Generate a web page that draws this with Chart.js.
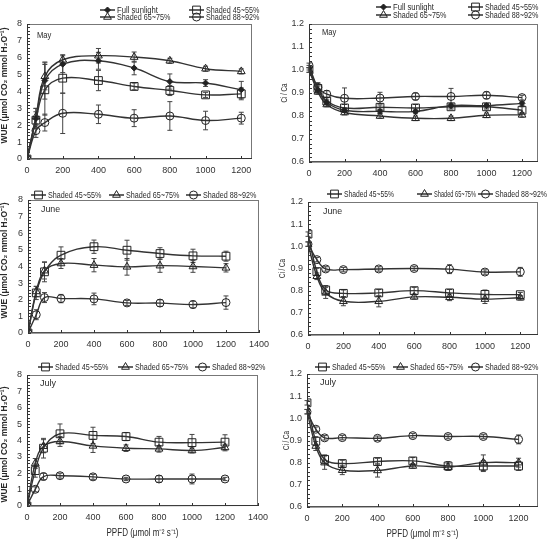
<!DOCTYPE html>
<html>
<head>
<meta charset="utf-8">
<script src="https://cdn.jsdelivr.net/npm/chart.js@4.4.1/dist/chart.umd.min.js"></script>
<style>
  body { margin: 0; background: #fff; width: 551px; height: 546px; position: relative; overflow: hidden; }
  .p { position: absolute; }
</style>
</head>
<body>
<div class="p" style="left:0;top:0;width:275px;height:178px"><canvas id="c1"></canvas></div>
<div class="p" style="left:275px;top:0;width:276px;height:178px"><canvas id="c2"></canvas></div>
<div class="p" style="left:0;top:180px;width:275px;height:178px"><canvas id="c3"></canvas></div>
<div class="p" style="left:275px;top:180px;width:276px;height:178px"><canvas id="c4"></canvas></div>
<div class="p" style="left:0;top:358px;width:275px;height:188px"><canvas id="c5"></canvas></div>
<div class="p" style="left:275px;top:358px;width:276px;height:188px"><canvas id="c6"></canvas></div>
<script>
// light intensity steps (PPFD)
const ppfd = [0, 50, 100, 200, 400, 600, 800, 1000, 1200];

// May - WUE
const mayWueFull = [0, 2.4, 4.65, 5.62, 5.82, 5.39, 4.59, 4.5, 4.1];
const mayWueFullErr = [0, 0.6, 1.1, 0.5, 0.5, 0.4, 0.45, 0.2, 0.5];
const mayWue45 = [0, 2.3, 4.1, 4.79, 4.65, 4.3, 4.06, 3.8, 3.86];
const mayWue45Err = [0, 0.5, 1.5, 0.9, 0.6, 0.2, 0.3, 0.15, 0.35];
const mayWue65 = [0, 2.5, 4.9, 5.88, 6.12, 6.04, 5.82, 5.35, 5.19];
const mayWue65Err = [0, 0.5, 0.8, 0.3, 0.43, 0.3, 0.15, 0.15, 0.15];
const mayWue88 = [0, 1.68, 2.16, 2.71, 2.65, 2.42, 2.55, 2.28, 2.42];
const mayWue88Err = [0, 0.4, 0.5, 1.2, 0.55, 0.5, 0.85, 0.55, 0.35];

// May - Ci/Ca
const mayCiFull = [1.01, 0.915, 0.86, 0.825, 0.82, 0.82, 0.845, 0.845, 0.855];
const mayCiFullErr = [0.01, 0.015, 0.01, 0.01, 0.01, 0.01, 0.01, 0.01, 0.01];
const mayCi45 = [1.0, 0.92, 0.865, 0.835, 0.838, 0.835, 0.84, 0.84, 0.825];
const mayCi45Err = [0.01, 0.015, 0.015, 0.015, 0.01, 0.015, 0.01, 0.01, 0.015];
const mayCi65 = [1.0, 0.905, 0.85, 0.815, 0.8, 0.79, 0.79, 0.803, 0.805];
const mayCi65Err = [0.01, 0.01, 0.01, 0.01, 0.01, 0.01, 0.01, 0.01, 0.01];
const mayCi88 = [1.02, 0.925, 0.895, 0.877, 0.878, 0.885, 0.885, 0.89, 0.88];
const mayCi88Err = [0.01, 0.02, 0.015, 0.045, 0.025, 0.015, 0.035, 0.015, 0.01];

// June - WUE
const junWue45 = [0, 2.41, 3.68, 4.68, 5.19, 4.98, 4.78, 4.64, 4.62];
const junWue45Err = [0, 0.4, 0.6, 0.5, 0.4, 0.6, 0.35, 0.4, 0.3];
const junWue65 = [0, 2.5, 3.75, 4.18, 4.08, 3.98, 4.05, 4.0, 3.92];
const junWue65Err = [0, 0.3, 0.5, 0.3, 0.4, 0.5, 0.4, 0.35, 0.25];
const junWue88 = [0, 1.1, 2.13, 2.07, 2.05, 1.81, 1.8, 1.71, 1.83];
const junWue88Err = [0, 0.3, 0.3, 0.25, 0.35, 0.15, 0.2, 0.2, 0.4];

// June - Ci/Ca
const junCi45 = [1.055, 0.886, 0.803, 0.788, 0.79, 0.8, 0.79, 0.783, 0.782];
const junCi45Err = [0.01, 0.015, 0.02, 0.015, 0.015, 0.015, 0.015, 0.02, 0.01];
const junCi65 = [1.01, 0.865, 0.79, 0.752, 0.752, 0.772, 0.77, 0.762, 0.768];
const junCi65Err = [0.01, 0.015, 0.025, 0.02, 0.025, 0.01, 0.015, 0.02, 0.01];
const junCi88 = [1.01, 0.94, 0.898, 0.895, 0.898, 0.9, 0.897, 0.884, 0.885];
const junCi88Err = [0.01, 0.01, 0.01, 0.01, 0.01, 0.01, 0.02, 0.01, 0.02];

// July - WUE
const julWue45 = [0, 2.16, 3.53, 4.41, 4.31, 4.24, 3.9, 3.87, 3.9];
const julWue45Err = [0, 0.4, 0.6, 0.6, 0.5, 0.25, 0.35, 0.5, 0.45];
const julWue65 = [0, 2.6, 3.65, 3.94, 3.67, 3.53, 3.49, 3.39, 3.57];
const julWue65Err = [0, 0.3, 0.4, 0.3, 0.4, 0.2, 0.2, 0.15, 0.2];
const julWue88 = [0, 1.02, 1.8, 1.85, 1.78, 1.65, 1.65, 1.65, 1.65];
const julWue88Err = [0, 0.15, 0.2, 0.15, 0.15, 0.1, 0.2, 0.3, 0.1];

// July - Ci/Ca
const julCi45 = [1.07, 0.897, 0.815, 0.796, 0.805, 0.808, 0.785, 0.785, 0.785];
const julCi45Err = [0.01, 0.02, 0.02, 0.015, 0.015, 0.015, 0.02, 0.025, 0.02];
const julCi65 = [1.03, 0.875, 0.8, 0.766, 0.765, 0.785, 0.78, 0.8, 0.8];
const julCi65Err = [0.01, 0.02, 0.03, 0.02, 0.03, 0.01, 0.015, 0.035, 0.02];
const julCi88 = [1.03, 0.951, 0.912, 0.913, 0.91, 0.922, 0.918, 0.918, 0.905];
const julCi88Err = [0.01, 0.01, 0.01, 0.01, 0.01, 0.01, 0.01, 0.01, 0.02];

const fam = "'Liberation Sans', Arial, sans-serif";
const ink = '#2a2a2a';

// marker look per treatment
const styles = {
  'Full sunlight': { pointStyle: 'rectRot', radius: 3, fill: '#222' },
  'Shaded 45~55%': { pointStyle: 'rect', radius: 5.5, fill: 'rgba(0,0,0,0)' },
  'Shaded 65~75%': { pointStyle: 'triangle', radius: 4.5, fill: 'rgba(0,0,0,0)' },
  'Shaded 88~92%': { pointStyle: 'circle', radius: 4, fill: 'rgba(0,0,0,0)' }
};

function mark(ctx, label, x, y) {
  const st = styles[label];
  ctx.save();
  ctx.fillStyle = st.fill;
  ctx.strokeStyle = '#222';
  ctx.lineWidth = 1;
  Chart.helpers.drawPoint(ctx, { pointStyle: st.pointStyle, radius: st.radius, rotation: 0, borderWidth: 1 }, x, y);
  ctx.restore();
}

function makeChart(id, cfg) {
  const datasets = cfg.series.map(s => {
    const st = styles[s.label];
    return {
      label: s.label,
      data: ppfd.map((x, i) => ({ x: x, y: s.values[i] })),
      errors: s.errors,
      borderColor: '#333',
      borderWidth: 1.4,
      pointStyle: st.pointStyle,
      pointRadius: st.radius,
      pointBackgroundColor: st.fill,
      pointBorderColor: '#222',
      pointBorderWidth: 1,
      tension: 0.4,
      fill: false
    };
  });

  const deco = {
    id: 'deco',
    beforeDatasetsDraw(chart) {
      // error bars
      const c = chart.ctx, ys = chart.scales.y;
      c.save();
      c.strokeStyle = '#444';
      c.lineWidth = 1;
      chart.data.datasets.forEach((ds, i) => {
        const meta = chart.getDatasetMeta(i);
        ds.data.forEach((p, j) => {
          const e = ds.errors[j];
          if (!e) return;
          const x = meta.data[j].x;
          const y1 = ys.getPixelForValue(p.y - e), y2 = ys.getPixelForValue(p.y + e);
          c.beginPath();
          c.moveTo(x, y1); c.lineTo(x, y2);
          c.moveTo(x - 2.5, y1); c.lineTo(x + 2.5, y1);
          c.moveTo(x - 2.5, y2); c.lineTo(x + 2.5, y2);
          c.stroke();
        });
      });
      c.restore();
    },
    afterDraw(chart) {
      const c = chart.ctx, a = chart.chartArea, ys = chart.scales.y, xs = chart.scales.x;
      c.save();
      // frame
      c.strokeStyle = '#777';
      c.lineWidth = 1;
      c.strokeRect(a.left + 0.5, a.top + 0.5, a.right - a.left - 1, a.bottom - a.top - 1);
      c.strokeStyle = '#333';
      c.beginPath();
      c.moveTo(a.left + 0.5, a.top); c.lineTo(a.left + 0.5, a.bottom);
      c.lineTo(a.right, a.bottom - 0.5);
      c.stroke();
      // inward minor ticks on y
      const n = Math.round((cfg.yMax - cfg.yMin) / cfg.yMinor);
      c.beginPath();
      for (let k = 0; k <= n; k++) {
        const py = Math.round(ys.getPixelForValue(cfg.yMin + k * cfg.yMinor)) + 0.5;
        c.moveTo(a.left, py); c.lineTo(a.left + 3, py);
      }
      // x ticks
      xs.ticks.forEach(t => {
        const px = Math.round(xs.getPixelForValue(t.value)) + 0.5;
        c.moveTo(px, a.bottom); c.lineTo(px, a.bottom - 3);
      });
      c.stroke();
      c.fillStyle = ink;
      c.textBaseline = 'middle';
      // y title, rotated
      c.save();
      c.translate(cfg.ytx, (a.top + a.bottom) / 2 + cfg.ytdy);
      c.rotate(-Math.PI / 2);
      c.textAlign = 'center';
      c.font = cfg.yTitleFont;
      c.fillText(cfg.yTitle, 0, 0, cfg.yTitleW);
      c.restore();
      // x title
      if (cfg.xTitle) {
        c.textAlign = 'center';
        c.font = '10px ' + fam;
        c.fillText(cfg.xTitle, (a.left + a.right) / 2, a.bottom + 27, 72);
      }
      // month tag
      c.textAlign = 'left';
      c.font = '9px ' + fam;
      c.fillText(cfg.month, a.left + cfg.mdx, a.top + cfg.mdy, cfg.month.length * 4.8);
      // legend
      cfg.legend.forEach(it => {
        c.strokeStyle = '#222';
        c.lineWidth = 1.4;
        c.beginPath();
        c.moveTo(it.x, it.y); c.lineTo(it.x + 15, it.y);
        c.stroke();
        mark(c, it.label, it.x + 7.5, it.y);
        c.fillStyle = ink;
        c.font = '9px ' + fam;
        c.fillText(it.label, it.x + 17, it.y + 0.5, it.w || it.label.length * 4.1);
      });
      c.restore();
    }
  };

  return new Chart(document.getElementById(id), {
    type: 'line',
    data: { datasets },
    options: {
      responsive: true,
      maintainAspectRatio: false,
      animation: false,
      layout: { autoPadding: false, padding: { left: 0, top: cfg.top, right: cfg.right, bottom: 0 } },
      plugins: { legend: { display: false }, tooltip: { enabled: false } },
      scales: {
        x: {
          type: 'linear',
          min: 0,
          max: cfg.xMax,
          ticks: {
            autoSkip: false, maxRotation: 0, padding: 6, color: '#333',
            font: { family: fam, size: 9 }, callback: v => String(v)
          },
          afterBuildTicks: s => {
            const t = [];
            for (let v = 0; v <= cfg.xMax; v += 200) t.push({ value: v });
            s.ticks = t;
          },
          afterFit: s => { s.height = cfg.xh; },
          grid: { display: false, drawTicks: false },
          border: { display: false }
        },
        y: {
          min: cfg.yMin,
          max: cfg.yMax,
          ticks: {
            stepSize: cfg.yStep, padding: 5, color: '#333', font: { family: fam, size: 9 },
            callback: v => cfg.yStep < 1 ? v.toFixed(1) : String(v)
          },
          afterFit: s => { s.width = cfg.yw; },
          grid: { display: false, drawTicks: false },
          border: { display: false }
        }
      }
    },
    plugins: [deco]
  });
}

const wueTitle = 'WUE (\u03bcmol CO\u2082 mmol H\u2082O\u207b\u00b9)';
const ciTitle = 'Ci / Ca';
const ppfdTitle = 'PPFD (\u03bcmol m\u207b\u00b2 s\u207b\u00b9)';
const wueAxis = { yMin: 0, yMax: 8, yStep: 1, yMinor: 0.2, yTitle: wueTitle, yTitleFont: 'bold 9px ' + fam, yTitleW: 116, ytx: 5, ytdy: -6 };
const ciAxis = { yMin: 0.6, yMax: 1.2, yStep: 0.1, yMinor: 0.02, yTitle: ciTitle, yTitleFont: '9px ' + fam, yTitleW: 19, ytx: 10, ytdy: 0 };

makeChart('c1', Object.assign({}, wueAxis, {
  yw: 27, xh: 19, top: 24, right: 23, xMax: 1260, month: 'May', mdx: 10, mdy: 12,
  series: [
    { label: 'Full sunlight', values: mayWueFull, errors: mayWueFullErr },
    { label: 'Shaded 45~55%', values: mayWue45, errors: mayWue45Err },
    { label: 'Shaded 65~75%', values: mayWue65, errors: mayWue65Err },
    { label: 'Shaded 88~92%', values: mayWue88, errors: mayWue88Err }
  ],
  legend: [
    { x: 100, y: 10, label: 'Full sunlight', w: 41 }, { x: 189, y: 10, label: 'Shaded 45~55%' },
    { x: 100, y: 17, label: 'Shaded 65~75%' }, { x: 189, y: 17, label: 'Shaded 88~92%' }
  ]
}));

makeChart('c2', Object.assign({}, ciAxis, {
  yw: 34, xh: 16, top: 24, right: 13, xMax: 1290, month: 'May', mdx: 13, mdy: 9,
  series: [
    { label: 'Full sunlight', values: mayCiFull, errors: mayCiFullErr },
    { label: 'Shaded 45~55%', values: mayCi45, errors: mayCi45Err },
    { label: 'Shaded 65~75%', values: mayCi65, errors: mayCi65Err },
    { label: 'Shaded 88~92%', values: mayCi88, errors: mayCi88Err }
  ],
  legend: [
    { x: 101, y: 7, label: 'Full sunlight', w: 41 }, { x: 193, y: 7, label: 'Shaded 45~55%' },
    { x: 101, y: 15, label: 'Shaded 65~75%' }, { x: 193, y: 15, label: 'Shaded 88~92%' }
  ]
}));

makeChart('c3', Object.assign({}, wueAxis, {
  yw: 28, xh: 25, top: 20, right: 16, xMax: 1400, month: 'June', mdx: 13, mdy: 10,
  series: [
    { label: 'Shaded 45~55%', values: junWue45, errors: junWue45Err },
    { label: 'Shaded 65~75%', values: junWue65, errors: junWue65Err },
    { label: 'Shaded 88~92%', values: junWue88, errors: junWue88Err }
  ],
  legend: [
    { x: 31, y: 15, label: 'Shaded 45~55%' }, { x: 109, y: 15, label: 'Shaded 65~75%' },
    { x: 186, y: 15, label: 'Shaded 88~92%' }
  ]
}));

makeChart('c4', Object.assign({}, ciAxis, {
  yw: 33, xh: 23, top: 22, right: 13, xMax: 1300, month: 'June', mdx: 15, mdy: 10, ytx: 8,
  series: [
    { label: 'Shaded 45~55%', values: junCi45, errors: junCi45Err },
    { label: 'Shaded 65~75%', values: junCi65, errors: junCi65Err },
    { label: 'Shaded 88~92%', values: junCi88, errors: junCi88Err }
  ],
  legend: [
    { x: 52, y: 14, label: 'Shaded 45~55%', w: 50 }, { x: 142, y: 14, label: 'Shaded 65~75%', w: 42 },
    { x: 203, y: 14, label: 'Shaded 88~92%', w: 52 }
  ]
}));

makeChart('c5', Object.assign({}, wueAxis, {
  yw: 27, xh: 40, top: 17, right: 17, xMax: 1400, month: 'July', mdx: 13, mdy: 9, xTitle: ppfdTitle, ytdy: 4,
  series: [
    { label: 'Shaded 45~55%', values: julWue45, errors: julWue45Err },
    { label: 'Shaded 65~75%', values: julWue65, errors: julWue65Err },
    { label: 'Shaded 88~92%', values: julWue88, errors: julWue88Err }
  ],
  legend: [
    { x: 38, y: 9, label: 'Shaded 45~55%' }, { x: 118, y: 9, label: 'Shaded 65~75%' },
    { x: 195, y: 9, label: 'Shaded 88~92%' }
  ]
}));

makeChart('c6', Object.assign({}, ciAxis, {
  yw: 32, xh: 39, top: 16, right: 13, xMax: 1310, month: 'July', mdx: 13, mdy: 9, xTitle: ppfdTitle, ytx: 12,
  series: [
    { label: 'Shaded 45~55%', values: julCi45, errors: julCi45Err },
    { label: 'Shaded 65~75%', values: julCi65, errors: julCi65Err },
    { label: 'Shaded 88~92%', values: julCi88, errors: julCi88Err }
  ],
  legend: [
    { x: 40, y: 9, label: 'Shaded 45~55%' }, { x: 118, y: 9, label: 'Shaded 65~75%' },
    { x: 193, y: 9, label: 'Shaded 88~92%' }
  ]
}));
</script>
</body>
</html>
